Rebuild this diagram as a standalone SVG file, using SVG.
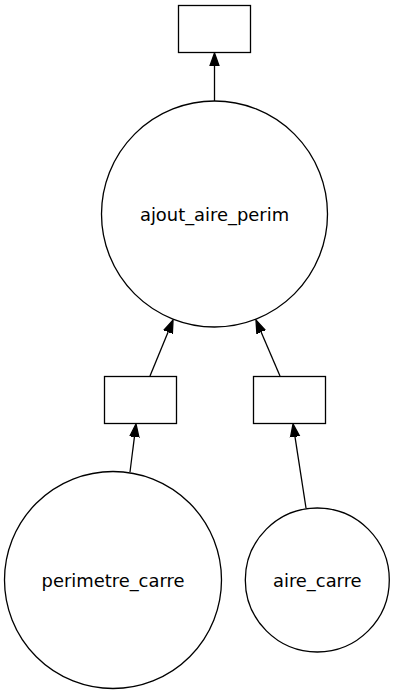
<svg xmlns="http://www.w3.org/2000/svg" width="395" height="694" viewBox="0 0 395 694">
  <style>
    .node { fill: #ffffff; stroke: #000000; stroke-width: 1.3; }
    .edge { fill: none; stroke: #000000; stroke-width: 1.3; }
    .label { font-family: "DejaVu Sans", sans-serif; font-size: 17.9px; fill: #000000; text-anchor: middle; }
  </style>
  <defs>
    <marker id="arrow" markerUnits="userSpaceOnUse" markerWidth="16" markerHeight="12" viewBox="0 -6 16 12" refX="0" refY="0" orient="auto">
      <path d="M0,-4.6 L13,0 L0,4.6 z" fill="#000000" stroke="#000000" stroke-width="1.3"/>
    </marker>
  </defs>
  <rect width="395" height="694" fill="#ffffff"/>

  <g id="edges">
    <line class="edge" x1="214.5" y1="101" x2="214.5" y2="66" marker-end="url(#arrow)"/>
    <line class="edge" x1="150" y1="376" x2="168.1" y2="332" marker-end="url(#arrow)"/>
    <line class="edge" x1="280" y1="376" x2="261.1" y2="332" marker-end="url(#arrow)"/>
    <line class="edge" x1="130" y1="472" x2="134.4" y2="436.9" marker-end="url(#arrow)"/>
    <line class="edge" x1="306" y1="508" x2="295" y2="436.8" marker-end="url(#arrow)"/>
  </g>

  <g id="result">
    <rect class="node" x="178.5" y="5.5" width="72" height="47"/>
  </g>
  <g id="ajout_aire_perim">
    <circle class="node" cx="214.5" cy="214" r="113"/>
    <text class="label" x="214.5" y="220.5">ajout_aire_perim</text>
  </g>
  <g id="perimetre_out">
    <rect class="node" x="104.5" y="376.5" width="72" height="47"/>
  </g>
  <g id="aire_out">
    <rect class="node" x="253.5" y="376.5" width="72" height="47"/>
  </g>
  <g id="perimetre_carre">
    <circle class="node" cx="113" cy="580" r="108.5"/>
    <text class="label" x="113" y="586.5">perimetre_carre</text>
  </g>
  <g id="aire_carre">
    <circle class="node" cx="317.3" cy="580" r="72"/>
    <text class="label" x="317.3" y="586.5">aire_carre</text>
  </g>
</svg>
